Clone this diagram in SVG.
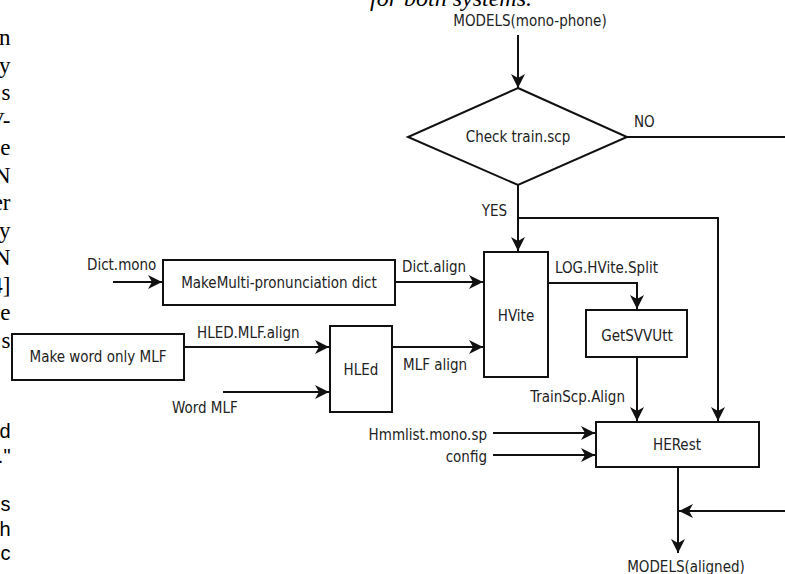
<svg xmlns="http://www.w3.org/2000/svg" width="785" height="574" viewBox="0 0 785 574">
  <defs>
    <marker id="arrow" markerUnits="userSpaceOnUse" markerWidth="16" markerHeight="14" viewBox="0 0 16 14" refX="14" refY="7" orient="auto">
      <path d="M0,0 L14,7 L0,14 L4,7 Z" fill="#111"/>
    </marker>
    <style>
      .box { fill: #fff; stroke: #111; stroke-width: 2; }
      .wire { fill: none; stroke: #111; stroke-width: 2; }
      .arr { marker-end: url(#arrow); }
      .lbl { font-family: "DejaVu Sans Condensed", "DejaVu Sans", sans-serif; font-size: 15px; fill: #222; }
      .mid { text-anchor: middle; }
      .end { text-anchor: end; }
      .body { font-family: "Liberation Serif", serif; font-size: 23px; fill: #000; text-anchor: end; }
      .body2 { font-family: "Liberation Sans", sans-serif; font-size: 20px; fill: #000; text-anchor: end; }
      .cap { font-family: "Liberation Serif", serif; font-size: 24px; font-style: italic; fill: #000; }
    </style>
  </defs>
  <rect width="785" height="574" fill="#fff"/>

  <!-- surrounding page text, clipped at the edges -->
  <g id="page-text">
    <text class="cap" x="370" y="6">for both systems.</text>
    <text class="body" x="10.5" y="45">n</text>
    <text class="body" x="10.5" y="72.5">y</text>
    <text class="body" x="10.5" y="100">s</text>
    <text class="body" x="10.5" y="127.5">V-</text>
    <text class="body" x="10.5" y="155">e</text>
    <text class="body" x="10.5" y="182.5">N</text>
    <text class="body" x="10.5" y="210">er</text>
    <text class="body" x="10.5" y="237.5">y</text>
    <text class="body" x="10.5" y="265">N</text>
    <text class="body" x="10.5" y="292.5">4]</text>
    <text class="body" x="10.5" y="320">e</text>
    <text class="body" x="10.5" y="347.5">s</text>
    <text class="body2" x="10.5" y="438">d</text>
    <text class="body2" x="10.5" y="463">."</text>
    <text class="body2" x="10.5" y="511">s</text>
    <text class="body2" x="10.5" y="536">h</text>
    <text class="body2" x="10.5" y="560">c</text>
  </g>

  <!-- connectors -->
  <g id="connectors">
    <path class="wire arr" d="M518,35 V88"/>
    <path class="wire" d="M627,137 H785"/>
    <path class="wire arr" d="M518,185 V251"/>
    <path class="wire arr" d="M518,218 H718 V421"/>
    <path class="wire arr" d="M113,282 H162"/>
    <path class="wire arr" d="M395,282 H483"/>
    <path class="wire arr" d="M184,347 H329"/>
    <path class="wire arr" d="M223,392 H329"/>
    <path class="wire arr" d="M392,347 H483"/>
    <path class="wire arr" d="M548,283 H637 V309"/>
    <path class="wire arr" d="M637,357 V421"/>
    <path class="wire arr" d="M493,433 H595"/>
    <path class="wire arr" d="M493,455 H595"/>
    <path class="wire arr" d="M678,467 V553"/>
    <path class="wire arr" d="M785,511 H679"/>
  </g>

  <!-- connector labels -->
  <g id="connector-labels" class="lbl">
    <text class="mid" x="530" y="26">MODELS(mono-phone)</text>
    <text x="634" y="127">NO</text>
    <text class="end" x="507" y="216">YES</text>
    <text x="87" y="270">Dict.mono</text>
    <text x="402" y="272">Dict.align</text>
    <text x="197" y="338">HLED.MLF.align</text>
    <text x="403" y="370">MLF align</text>
    <text x="172" y="413">Word MLF</text>
    <text x="555" y="273">LOG.HVite.Split</text>
    <text class="end" x="625" y="402">TrainScp.Align</text>
    <text class="end" x="487" y="440">Hmmlist.mono.sp</text>
    <text class="end" x="487" y="462">config</text>
    <text class="mid" x="686" y="572">MODELS(aligned)</text>
  </g>

  <g id="check-train-scp">
    <path class="box" d="M518,88 L627,137 L518,185 L408,137 Z"/>
    <text class="lbl mid" x="518" y="142">Check train.scp</text>
  </g>

  <g id="make-multi-dict">
    <rect class="box" x="163" y="260" width="232" height="45"/>
    <text class="lbl mid" x="279" y="288">MakeMulti-pronunciation dict</text>
  </g>

  <g id="make-word-mlf">
    <rect class="box" x="12" y="334" width="172" height="46"/>
    <text class="lbl mid" x="98" y="362">Make word only MLF</text>
  </g>

  <g id="hled">
    <rect class="box" x="330" y="326" width="62" height="86"/>
    <text class="lbl mid" x="361" y="375">HLEd</text>
  </g>

  <g id="hvite">
    <rect class="box" x="484" y="252" width="64" height="125"/>
    <text class="lbl mid" x="516" y="321">HVite</text>
  </g>

  <g id="getsvvutt">
    <rect class="box" x="586" y="310" width="101" height="47"/>
    <text class="lbl mid" x="637" y="341">GetSVVUtt</text>
  </g>

  <g id="herest">
    <rect class="box" x="596" y="422" width="163" height="45"/>
    <text class="lbl mid" x="677" y="450">HERest</text>
  </g>
</svg>
